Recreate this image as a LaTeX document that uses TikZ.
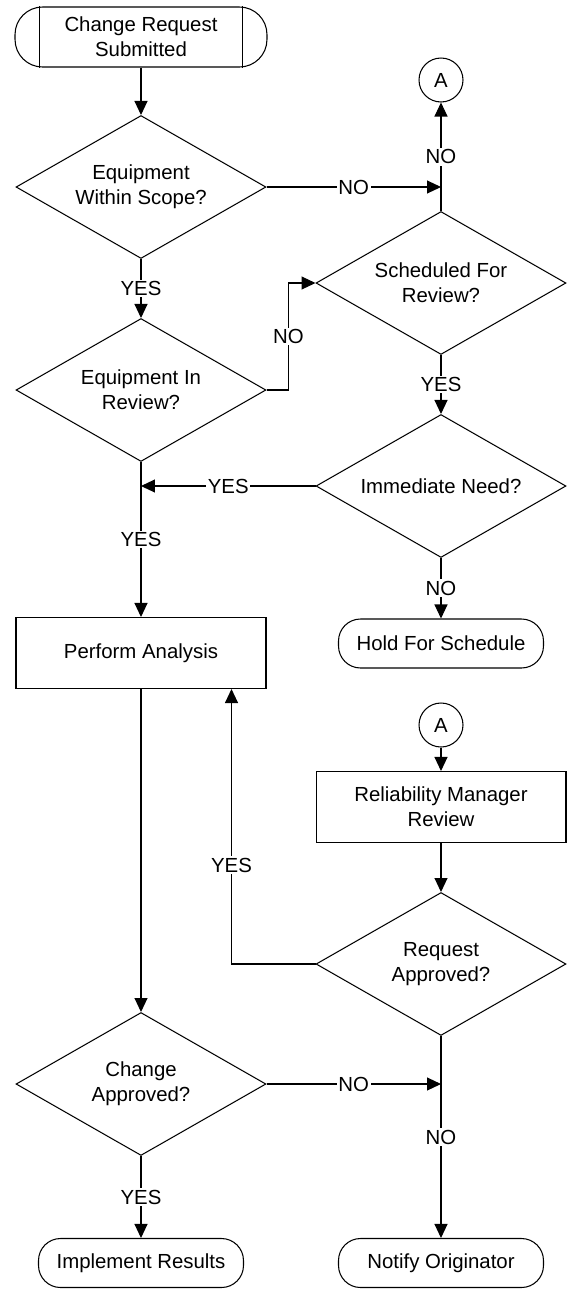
\documentclass[tikz,border=0pt]{standalone}
\usepackage{fontspec}
\setmainfont{Liberation Sans}
\usetikzlibrary{arrows.meta,positioning,calc,shapes.geometric}
\newcommand{\flowfont}{\fontsize{11.6}{14.2}\selectfont}

\begin{document}
\begin{tikzpicture}[x=0.02cm,y=-0.02cm,>={Triangle[length=0.28cm,width=0.26cm]},line width=0.6pt,
  every node/.style={font=\flowfont,align=center},
  decision/.style={draw,diamond,aspect=1.76,inner sep=0pt,minimum width=5cm,minimum height=2.86cm},
  process/.style={draw,rectangle,minimum width=5cm,minimum height=1.42cm},
  terminal/.style={draw,rectangle,rounded corners=0.44cm,minimum width=4.1cm,minimum height=0.98cm},
  connector/.style={draw,circle,inner sep=0pt,minimum size=0.88cm},
  lbl/.style={fill=white,inner sep=1pt}]
  \useasboundingbox (0,0) rectangle (566,1289);
  % left column
  \node[draw,rectangle,rounded corners=0.55cm,minimum width=5.04cm,minimum height=1.2cm] (start) at (141,37) {Change Request\\Submitted};
  \draw ([xshift=0.5cm]start.north west) -- ([xshift=0.5cm]start.south west);
  \draw ([xshift=-0.5cm]start.north east) -- ([xshift=-0.5cm]start.south east);
  \node[decision] (d1) at (141,187) {Equipment\\Within Scope?};
  \node[decision] (d2) at (141,390) {Equipment In\\Review?};
  \node[process] (analysis) at (141,653) {Perform Analysis};
  \node[decision] (d6) at (141,1084) {Change\\Approved?};
  \node[terminal] (impl) at (141,1263) {Implement Results};
  % right column
  \node[connector] (a1) at (441,80) {A};
  \node[decision] (d3) at (441,283) {Scheduled For\\Review?};
  \node[decision] (d4) at (441,486) {Immediate Need?};
  \node[terminal] (hold) at (441,643.5) {Hold For Schedule};
  \node[connector] (a2) at (441,725) {A};
  \node[process] (review) at (441,807) {Reliability Manager\\Review};
  \node[decision] (d5) at (441,964) {Request\\Approved?};
  \node[terminal] (notify) at (441,1263) {Notify Originator};
  \coordinate (j1) at (d1.east -| d3.north);
  \coordinate (j2) at (d4.west -| d2.south);
  \coordinate (j3) at (d6.east -| d5.south);
  % straight connectors
  \foreach \a/\b in {start.south/d1.north,a2.south/review.north,review.south/d5.north,analysis.south/d6.north}{
    \draw[->] (\a)--(\b);
  }
  \foreach \a/\b/\t in {d1.south/d2.north/YES,d2.south/analysis.north/YES,d6.south/impl.north/YES,
      d3.south/d4.north/YES,d4.south/hold.north/NO,d5.south/notify.north/NO}{
    \draw[->] (\a)-- node[lbl] {\t} (\b);
  }
  % branches
  \draw[->] (d3.north)-- node[lbl] {NO} (a1.south);
  \draw[->] (d1.east)-- node[lbl] {NO} (j1);
  \draw[->] (d2.east)--++(22,0) |- node[lbl,pos=0.25] {NO} (d3.west);
  \draw[->] (d4.west)-- node[lbl] {YES} (j2);
  \draw[->] (d5.west) -| node[lbl,pos=0.68] {YES} ($(analysis.south east)+(-35,0)$);
  \draw[->] (d6.east)-- node[lbl] {NO} (j3);
\end{tikzpicture}
\end{document}
